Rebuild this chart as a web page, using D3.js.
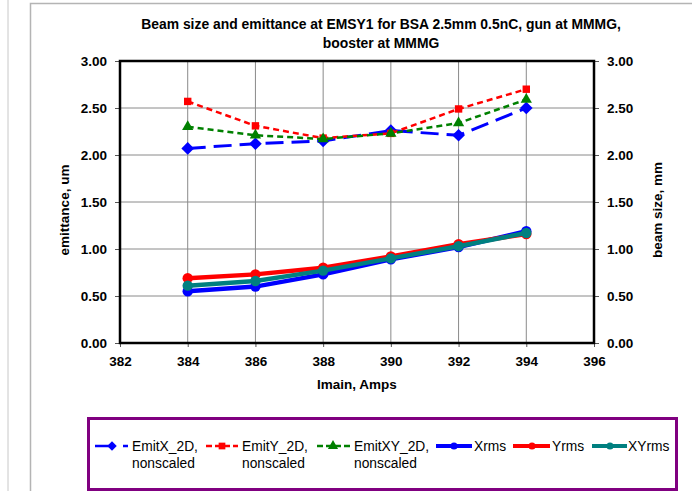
<!DOCTYPE html>
<html><head><meta charset="utf-8">
<script src="https://cdn.jsdelivr.net/npm/d3@7"></script>
<style>body{margin:0;background:#fff}svg{display:block;font-family:"Liberation Sans",Arial,sans-serif}</style>
</head><body>
<script>
const currents = [384, 386, 388, 390, 392, 394];
const emitX = [2.07, 2.12, 2.15, 2.26, 2.21, 2.50];
const emitY = [2.57, 2.31, 2.18, 2.23, 2.49, 2.70];
const emitXY = [2.30, 2.21, 2.17, 2.23, 2.34, 2.59];
const xrms = [0.55, 0.60, 0.73, 0.89, 1.02, 1.19];
const yrms = [0.69, 0.73, 0.80, 0.92, 1.05, 1.16];
const xyrms = [0.61, 0.66, 0.77, 0.90, 1.03, 1.17];
const xTicks = [382, 384, 386, 388, 390, 392, 394, 396];
const yTicks = [0, 0.5, 1, 1.5, 2, 2.5, 3];
const seriesNames = ["EmitX_2D, nonscaled", "EmitY_2D, nonscaled", "EmitXY_2D, nonscaled", "Xrms", "Yrms", "XYrms"];

const W = 692, H = 491;
const m = {l:120, r:594, t:61, b:343};
const svg = d3.select("body").append("svg").attr("width", W).attr("height", H);

// outer frame lines
svg.append("line").attr("x1",8).attr("x2",8).attr("y1",0).attr("y2",H).attr("stroke","#c8c8c8").attr("stroke-width",1);
svg.append("path").attr("d",`M30.5,${H} V3.5 H${W}`).attr("fill","none").attr("stroke","#b4b4b4").attr("stroke-width",1.5);

const x = d3.scaleLinear().domain([382,396]).range([m.l, m.r]);
const yL = d3.scaleLinear().domain([0,3]).range([m.b, m.t]);
const yR = d3.scaleLinear().domain([0,3]).range([m.b, m.t]);

// grid
const g = svg.append("g");
g.selectAll(".vg").data(xTicks.slice(1,-1)).join("line")
  .attr("x1",d=>x(d)).attr("x2",d=>x(d)).attr("y1",m.t).attr("y2",m.b)
  .attr("stroke","#8a8a8a").attr("stroke-width",1);
g.selectAll(".hg").data(yTicks.slice(1,-1)).join("line")
  .attr("x1",m.l).attr("x2",m.r).attr("y1",d=>yL(d)).attr("y2",d=>yL(d))
  .attr("stroke","#8a8a8a").attr("stroke-width",1);

// axes
const fmt = d3.format(".2f");
const axL = svg.append("g").attr("transform",`translate(${m.l},0)`)
  .call(d3.axisLeft(yL).tickValues(yTicks).tickFormat(fmt).tickSize(5).tickPadding(8));
const axR = svg.append("g").attr("transform",`translate(${m.r},0)`)
  .call(d3.axisRight(yR).tickValues(yTicks).tickFormat(fmt).tickSize(5).tickPadding(8));
const axB = svg.append("g").attr("transform",`translate(0,${m.b})`)
  .call(d3.axisBottom(x).tickValues(xTicks).tickFormat(d3.format("d")).tickSize(4).tickPadding(9));
[axL,axR,axB].forEach(a=>{
  a.select(".domain").remove();
  a.selectAll(".tick line").attr("stroke","#555");
  a.selectAll("text").attr("font-size","13.5px").attr("font-weight","bold").attr("fill","#000");
});

// plot border
svg.append("rect").attr("x",m.l).attr("y",m.t).attr("width",m.r-m.l).attr("height",m.b-m.t)
  .attr("fill","none").attr("stroke","#000").attr("stroke-width",2.5);

// title
const title = svg.append("text").attr("text-anchor","middle").attr("font-weight","bold").attr("font-size","13.9px");
title.append("tspan").attr("x",381).attr("y",29).text("Beam size and emittance at EMSY1 for BSA 2.5mm 0.5nC, gun at MMMG,");
title.append("tspan").attr("x",381).attr("y",48).text("booster at MMMG");

// axis titles
svg.append("text").attr("transform","translate(69,210) rotate(-90)").attr("text-anchor","middle")
  .attr("font-size","13.5px").attr("font-weight","bold").text("emittance, um");
svg.append("text").attr("transform","translate(662,210) rotate(-90)").attr("text-anchor","middle")
  .attr("font-size","13.5px").attr("font-weight","bold").text("beam size, mm");
svg.append("text").attr("x",357).attr("y",389).attr("text-anchor","middle")
  .attr("font-size","13.5px").attr("font-weight","bold").text("Imain, Amps");

const diamond = {draw(ctx, size){ const r = Math.sqrt(size)/Math.SQRT2; ctx.moveTo(0,-r); ctx.lineTo(r,0); ctx.lineTo(0,r); ctx.lineTo(-r,0); ctx.closePath(); }};
const series = [
  {name:seriesNames[0], vals:emitX, color:"#0000ff", dash:"18,8", w:3, sym:diamond, size:80, y:yL},
  {name:seriesNames[1], vals:emitY, color:"#ff0000", dash:"6,4", w:2.5, sym:d3.symbolSquare, size:55, y:yL},
  {name:seriesNames[2], vals:emitXY, color:"#008000", dash:"6,4", w:2.5, sym:d3.symbolTriangle, size:55, y:yL},
  {name:seriesNames[3], vals:xrms, color:"#0000ff", dash:null, w:4.5, sym:d3.symbolCircle, size:85, y:yR},
  {name:seriesNames[4], vals:yrms, color:"#ff0000", dash:null, w:4.5, sym:d3.symbolCircle, size:85, y:yR},
  {name:seriesNames[5], vals:xyrms, color:"#008080", dash:null, w:4.5, sym:d3.symbolCircle, size:85, y:yR},
];
const drawOrder = [3,4,5,0,1,2];
drawOrder.forEach(i=>{
  const s = series[i];
  const pts = currents.map((c,j)=>[c,s.vals[j]]);
  svg.append("path").datum(pts)
    .attr("d", d3.line().x(d=>x(d[0])).y(d=>s.y(d[1])))
    .attr("fill","none").attr("stroke",s.color).attr("stroke-width",s.w)
    .attr("stroke-dasharray",s.dash);
  svg.append("g").selectAll("path").data(pts).join("path")
    .attr("transform",d=>`translate(${x(d[0])},${s.y(d[1])})`)
    .attr("d", d3.symbol().type(s.sym).size(s.size)).attr("fill",s.color);
});

// legend
svg.append("rect").attr("x",88.5).attr("y",418.5).attr("width",588).attr("height",71)
  .attr("fill","#fff").attr("stroke","#800080").attr("stroke-width",3);
// [symbol start, symbol end, marker x, text x]
const legPos = [[95,128,112,132],[206,238,222,242],[317,350,333,354],[436,472,454,474],[513,550,532,552],[592,627,610,628]];
series.forEach((s,i)=>{
  const [x0,x1,mx,tx] = legPos[i], ly = 446;
  const lg = svg.append("g");
  if (s.dash) {
    lg.append("line").attr("x1",x0).attr("x2",x1).attr("y1",ly).attr("y2",ly)
      .attr("stroke",s.color).attr("stroke-width",2.5).attr("stroke-dasharray", i===0 ? "18,10,6,20" : "6,3");
  } else {
    lg.append("line").attr("x1",x0).attr("x2",x1).attr("y1",ly).attr("y2",ly)
      .attr("stroke",s.color).attr("stroke-width",4);
  }
  lg.append("path").attr("transform",`translate(${mx},${ly})`)
    .attr("d", d3.symbol().type(s.sym).size(s.dash?45:40)).attr("fill",s.color);
  const parts = s.name.split(" ");
  const t = lg.append("text").attr("font-size","13.8px").attr("fill","#000");
  t.append("tspan").attr("x",tx).attr("y",ly+5).text(parts[0]);
  if (parts[1]) t.append("tspan").attr("x",tx).attr("y",ly+22).text(parts[1]);
});
</script>
</body></html>
